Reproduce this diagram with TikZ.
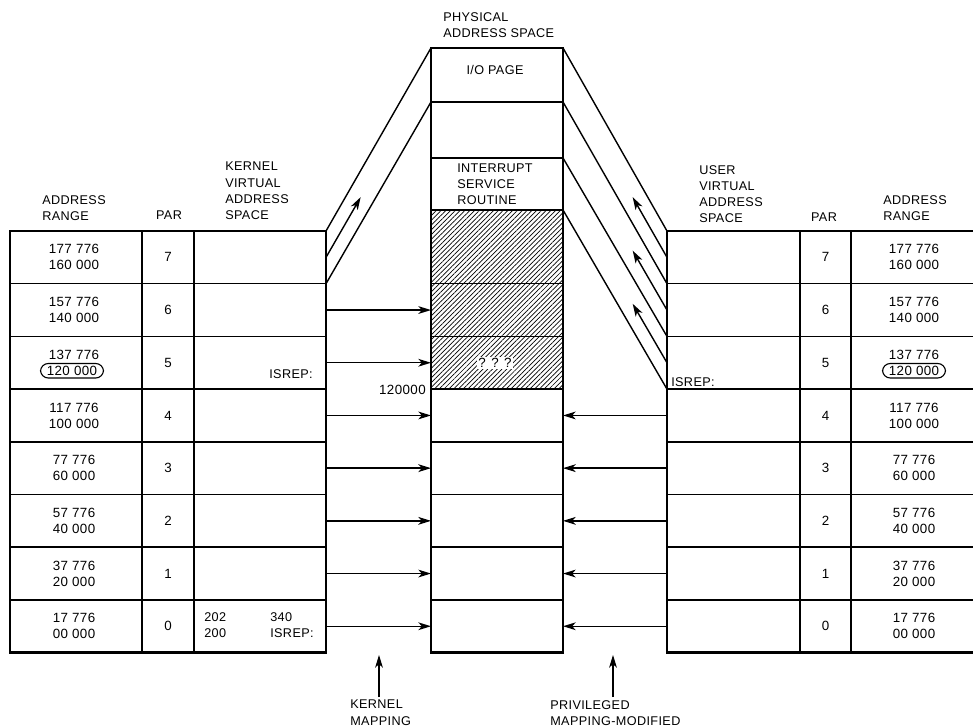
\documentclass[tikz,border=0pt]{standalone}
\usepackage{fontspec}
\setmainfont{Liberation Sans}[LetterSpace=3]
\usetikzlibrary{arrows.meta, calc, patterns.meta}

\tikzset{
  cell/.style={draw, line width=1pt, inner sep=0pt, outer sep=0pt, minimum height=1.3175cm},
  frame/.style={line width=1.7pt},
  hatch/.style={pattern={Lines[angle=45, distance=2.4pt, line width=0.5pt]}},
  head/.style={font=\fontsize{9}{11.4}\selectfont, align=left, inner sep=0pt, anchor=north west},
  num/.style={font=\fontsize{9.5}{11.4}\selectfont, align=center, inner sep=0pt},
  maparrow/.style={line width=1pt, -{Stealth[length=9pt, width=5.5pt, inset=2.5pt]}},
}

\begin{document}
\begin{tikzpicture}[x=0.025cm, y=-0.025cm]
\clip (0,0) rectangle (973,728);

% === Table cells (kernel left, user right) ===
\foreach \r in {0,...,7} {
  \pgfmathsetmacro\yc{626.25-52.7*\r}
  \node[cell, minimum width=3.3cm] (ka\r) at (76,\yc) {};
  \node[cell, minimum width=1.3cm, num] (kp\r) at (168,\yc) {\r};
  \node[cell, minimum width=3.3cm] (k\r) at (260,\yc) {};
  \node[cell, minimum width=3.325cm] (u\r) at (733.5,\yc) {};
  \node[cell, minimum width=1.275cm, num] (up\r) at (825.5,\yc) {\r};
  \node[cell, minimum width=3.15cm] (ua\r) at (914,\yc) {};
}

% === Physical address space ===
\node[cell, minimum width=3.3cm, minimum height=1.35cm] (io) at (497,75) {};
\node[cell, minimum width=3.3cm, minimum height=1.4cm] (blank) at (497,130) {};
\node[cell, minimum width=3.3cm, minimum height=1.3cm] (isr) at (497,184) {};
\node[cell, hatch, minimum width=3.3cm, minimum height=1.8425cm] (p7) at (497,246.85) {};
\foreach \r in {0,...,6} {
  \pgfmathsetmacro\yc{626.25-52.7*\r}
  \node[cell, minimum width=3.3cm] (p\r) at (497,\yc) {};
}
\node[cell, hatch, minimum width=3.3cm] at (p6) {};
\node[cell, hatch, minimum width=3.3cm] at (p5) {};

% Outer frames
\draw[frame] (ka7.north west) rectangle (k0.south east);
\draw[frame] (io.north west) rectangle (p0.south east);
\draw[frame] (u7.north west) rectangle (ua0.south east);

% === Address ranges ===
\foreach \r/\hi/\lo in {7/177 776/160 000, 6/157 776/140 000, 4/117 776/100 000,
    3/77 776/60 000, 2/57 776/40 000, 1/37 776/20 000, 0/17 776/00 000} {
  \node[num] at ($(ka\r)+(-2,0)$) {\hi\\\lo};
  \node[num] at (ua\r) {\hi\\\lo};
}
\node[num] at ($(ka5)+(-2,-8)$) {137 776};
\node[num, draw, line width=0.8pt, rounded corners=5.5pt, inner xsep=4.5pt, inner ysep=1.8pt]
     at ($(ka5)+(-4,8)$) {120 000};
\node[num] at ($(ua5)+(0,-8)$) {137 776};
\node[num, draw, line width=0.8pt, rounded corners=5.5pt, inner xsep=4.5pt, inner ysep=1.8pt]
     at ($(ua5)+(0,8)$) {120 000};

% === Headings ===
\node[head] (krange) at (42,195.5) {ADDRESS\\RANGE};
\node[head, anchor=center] (kpar) at (169,215) {PAR};
\node[head] (khead) at (225,162) {KERNEL\\VIRTUAL\\ADDRESS\\SPACE};
\node[head] (phead) at (443,12.5) {PHYSICAL\\ADDRESS SPACE};
\node[head] (uhead) at (699,165.5) {USER\\VIRTUAL\\ADDRESS\\SPACE};
\node[head, anchor=center] (upar) at (824,217) {PAR};
\node[head] (urange) at (883,195.5) {ADDRESS\\RANGE};

% Labels in the physical column
\node[head, anchor=center] (iolabel) at (495,70) {I/O PAGE};
\node[head] (isrlabel) at (457,163.5) {INTERRUPT\\SERVICE\\ROUTINE};
\node[num, fill=white, inner sep=1pt] (unknown) at (495,363) {? ? ?};
\node[num, anchor=east] (physaddr) at (426,390) {120000};

% Kernel / user entries
\node[head, anchor=east] (kisrep) at (313,374) {ISREP:};
\node[head] (kvec) at (204,612) {202\\200};
\node[head] (kvecb) at (270,612) {340\\ISREP:};
\node[head, anchor=west] (uisrep) at (671,382) {ISREP:};

% === Mappings ===
% Kernel page 7 -> I/O page
\draw[line width=1pt] (k7.north east) -- (io.north west);
\draw[line width=1pt] (k7.south east) -- (io.south west);
\draw[maparrow] (k7.east) -- ($(k7.east)!0.33!(io.west)$);

% User pages 7, 6, 5 -> upper physical pages
\draw[line width=1pt] (u7.north west) -- (io.north east);
\draw[line width=1pt] (u6.north west) -- (blank.north east);
\draw[line width=1pt] (u5.north west) -- (isr.north east);
\draw[line width=1pt] (u5.south west) -- (p7.north east);
\draw[maparrow] (u7.west) -- ($(u7.west)!0.33!(io.east)$);
\draw[maparrow] (u6.west) -- ($(u6.west)!0.33!(blank.east)$);
\draw[maparrow] (u5.west) -- ($(u5.west)!0.33!(isr.east)$);

% Straight mappings
\foreach \r in {0,...,6}
  \draw[maparrow] (k\r.east) -- (p\r.west);
\foreach \r in {0,...,4}
  \draw[maparrow] (u\r.west) -- (p\r.east);

% === Bottom labels ===
\node[head] (kmap) at (350,700) {KERNEL\\MAPPING};
\node[head] (pmap) at (550,700) {PRIVILEGED\\MAPPING-MODIFIED};
\coordinate (ktip) at (379,655);
\coordinate (ptip) at (613,655);
\draw[maparrow] ([yshift=2pt]kmap.north -| ktip) -- (ktip);
\draw[maparrow] ([yshift=2pt]pmap.north -| ptip) -- (ptip);

\end{tikzpicture}
\end{document}
